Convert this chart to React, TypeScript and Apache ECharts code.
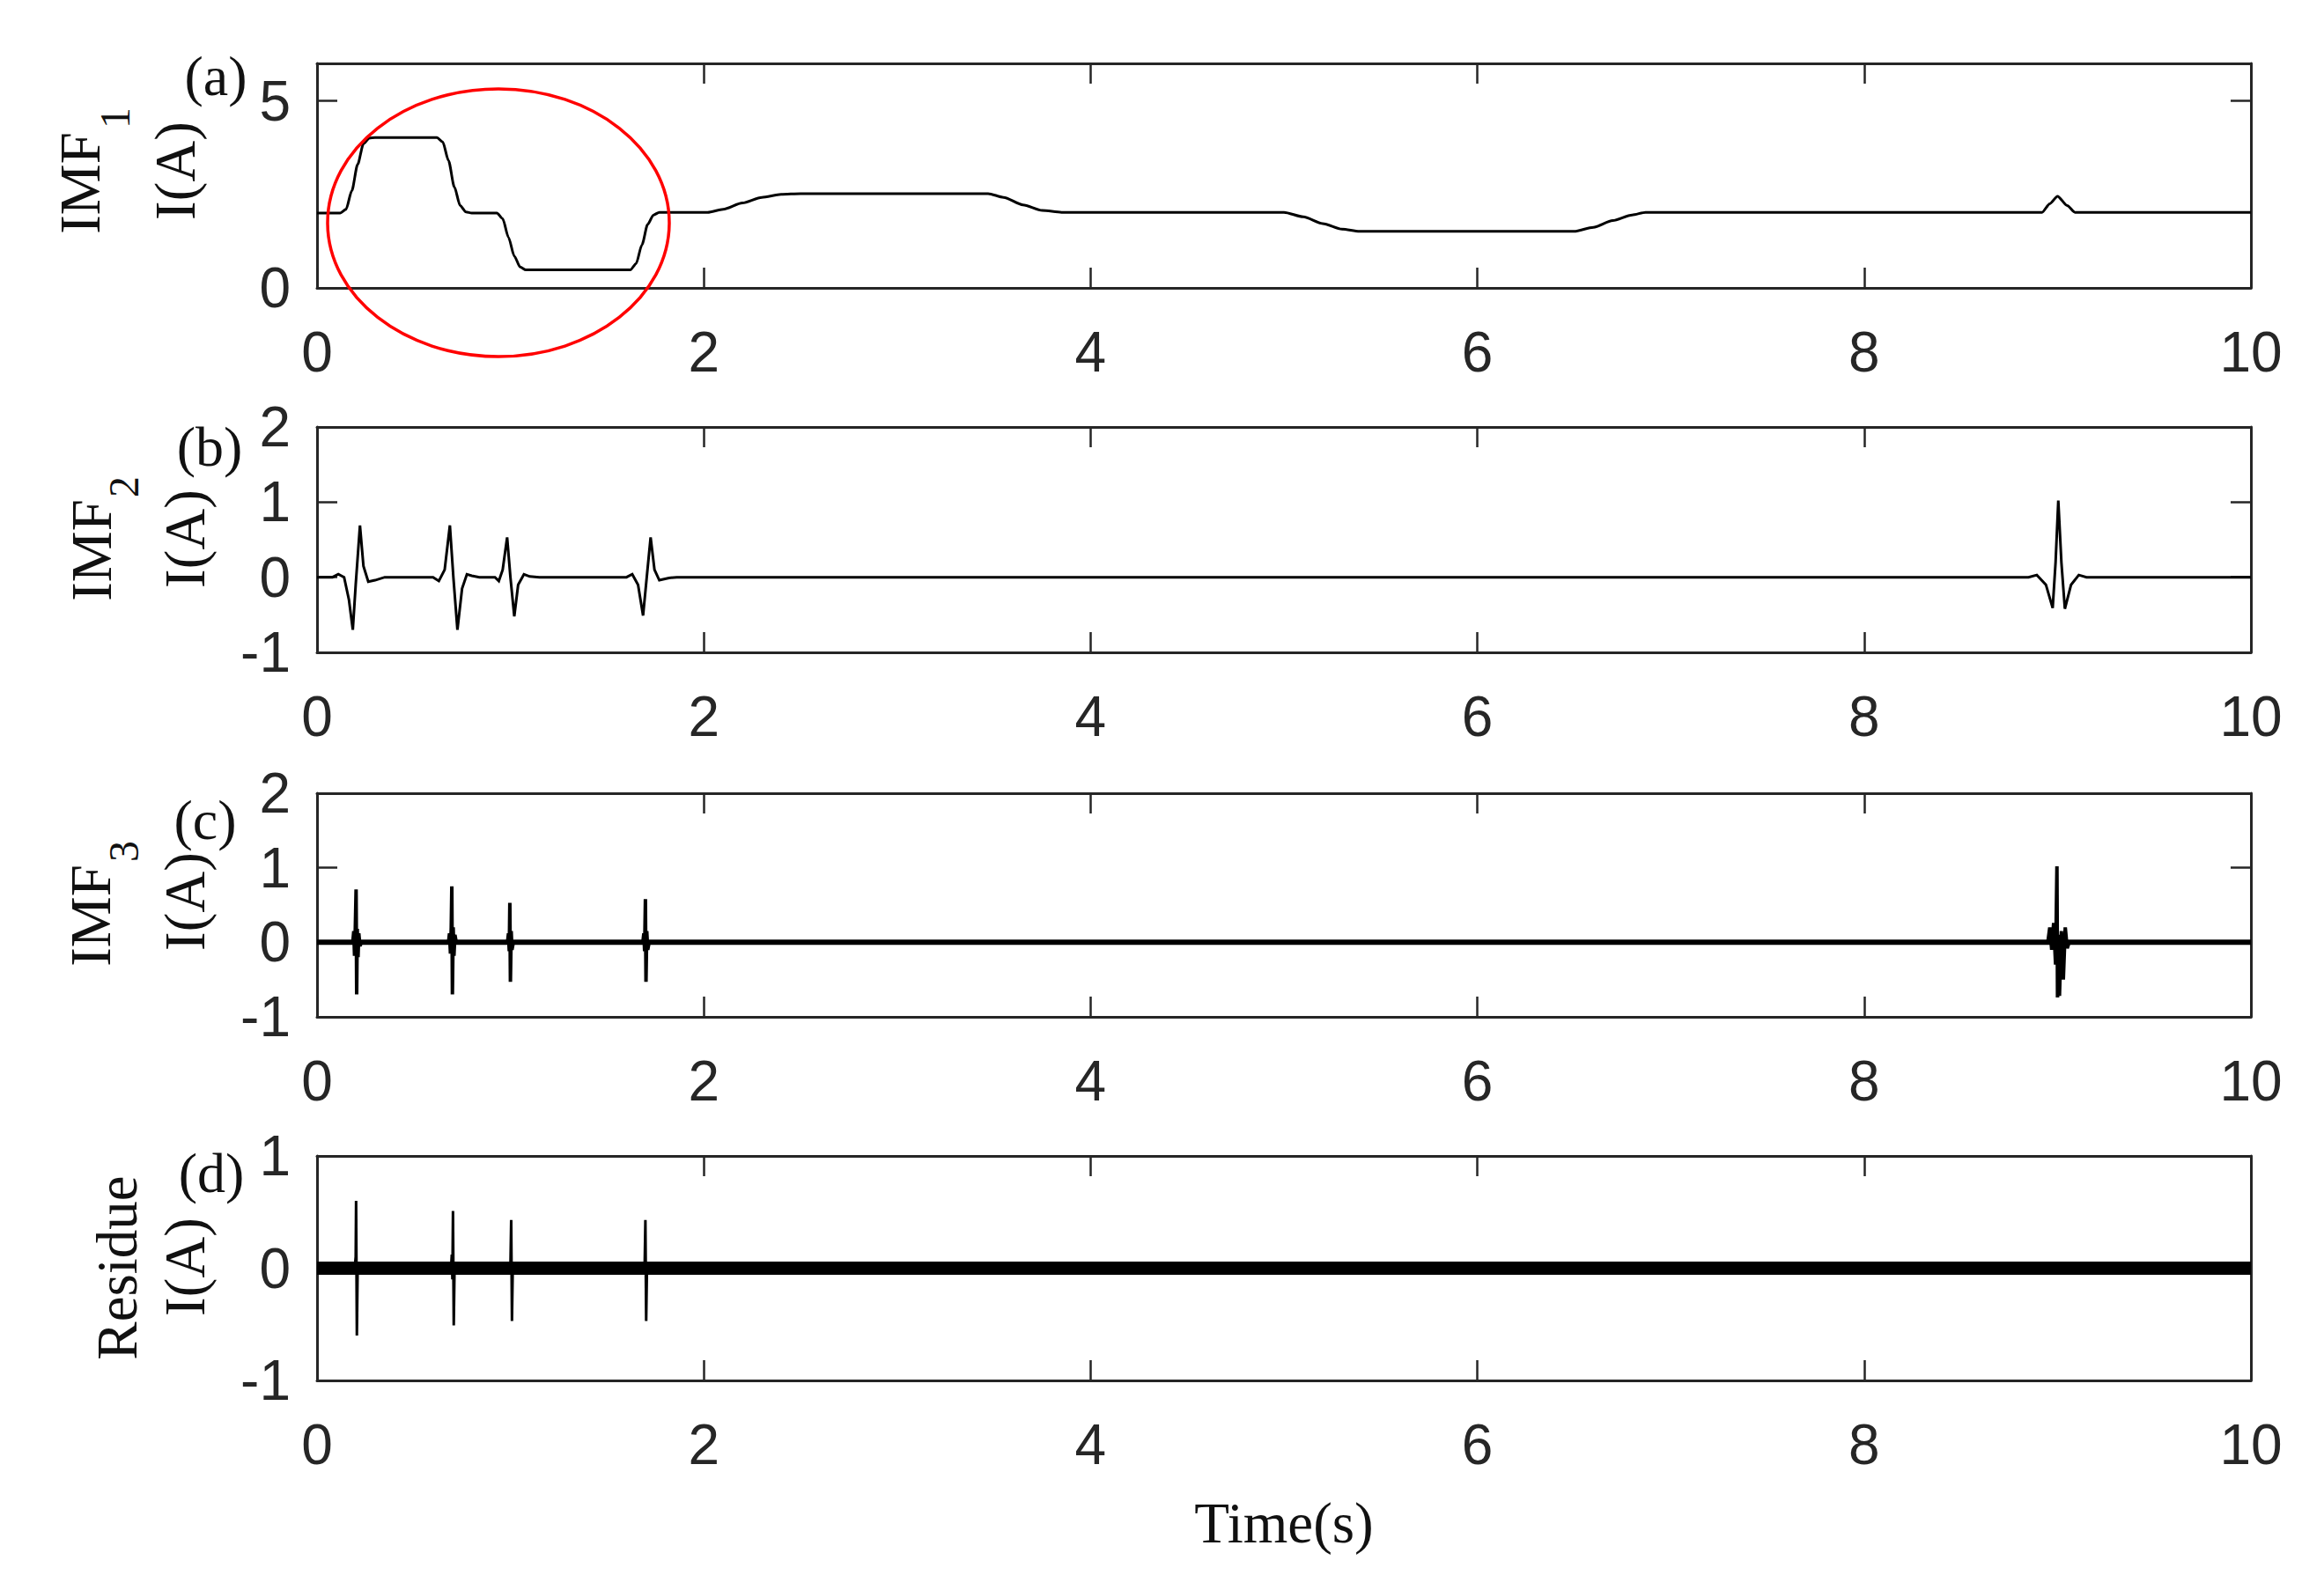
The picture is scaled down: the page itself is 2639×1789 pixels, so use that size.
import React, { useEffect, useRef } from "react";
import * as echarts from "echarts";

// ---------- data ----------
const timeMin = 0;
const timeMax = 10;
const timeStep = 2;

const panelLabels = ["(a)", "(b)", "(c)", "(d)"];
const yMainNames = ["IMF", "IMF", "IMF", "Residue"];
const ySubNames = ["1", "2", "3", ""];
const yUnitName = "I(A)";
const xTitle = "Time(s)";

const yMins = [0, -1, -1, -1];
const yMaxs = [6, 2, 2, 1];
const ySteps = [5, 1, 1, 1];

// (a) IMF1 [time, current]
const imf1: number[][] = [
  [0, 2.0], [0.12, 2.0], [0.15, 2.1], [0.18, 2.6], [0.21, 3.3], [0.24, 3.85], [0.27, 4.0], [0.3, 4.02],
  [0.62, 4.02], [0.65, 3.9], [0.68, 3.4], [0.71, 2.7], [0.74, 2.2], [0.77, 2.03], [0.8, 2.0],
  [0.93, 2.0], [0.96, 1.85], [0.99, 1.35], [1.02, 0.85], [1.05, 0.56], [1.08, 0.48],
  [1.62, 0.48], [1.65, 0.65], [1.68, 1.15], [1.71, 1.7], [1.74, 1.95], [1.77, 2.02],
  [2.02, 2.02], [2.1, 2.1], [2.2, 2.27], [2.3, 2.42], [2.4, 2.5], [2.5, 2.52],
  [3.47, 2.52], [3.55, 2.42], [3.65, 2.22], [3.75, 2.07], [3.85, 2.02],
  [5.0, 2.02], [5.1, 1.9], [5.2, 1.72], [5.3, 1.57], [5.39, 1.51],
  [6.5, 1.51], [6.6, 1.62], [6.7, 1.8], [6.8, 1.95], [6.87, 2.02],
  [8.92, 2.02], [8.96, 2.25], [9.0, 2.45], [9.05, 2.2], [9.09, 2.02], [10, 2.02],
];

// (b) IMF2
const imf2: number[][] = [
  [0, 0], [0.08, 0], [0.11, 0.04], [0.14, 0.0], [0.165, -0.3], [0.185, -0.7], [0.2, -0.1], [0.222, 0.69],
  [0.24, 0.15], [0.265, -0.06], [0.3, -0.04], [0.35, 0],
  [0.6, 0], [0.63, -0.05], [0.66, 0.1], [0.687, 0.69], [0.705, 0], [0.726, -0.7], [0.75, -0.15], [0.775, 0.04], [0.8, 0.02], [0.84, 0],
  [0.92, 0], [0.94, -0.05], [0.96, 0.1], [0.983, 0.53], [1.0, 0], [1.02, -0.52], [1.04, -0.1], [1.07, 0.04], [1.1, 0.01], [1.15, 0],
  [1.6, 0], [1.63, 0.04], [1.66, -0.1], [1.686, -0.51], [1.705, 0], [1.725, 0.53], [1.745, 0.1], [1.77, -0.04], [1.82, -0.01], [1.86, 0],
  [8.85, 0], [8.893, 0.03], [8.94, -0.1], [8.975, -0.41], [8.99, 0.2], [9.004, 1.02], [9.02, 0.2], [9.038, -0.42],
  [9.07, -0.1], [9.11, 0.03], [9.15, 0], [10, 0],
];

// (c) IMF3
const imf3Floor: number[][] = [[0, 0], [10, 0]];
const imf3: number[][] = [
  [0, 0], [0.185, 0], [0.19, 0.15], [0.194, -0.18], [0.198, 0.2], [0.202, 0.71], [0.205, -0.7], [0.208, 0.18],
  [0.212, -0.2], [0.216, 0.12], [0.222, -0.05], [0.23, 0],
  [0.68, 0], [0.685, 0.12], [0.69, -0.15], [0.694, 0.2], [0.697, 0.75], [0.7, -0.7], [0.704, 0.2], [0.708, -0.18], [0.713, 0.1], [0.72, 0],
  [0.985, 0], [0.99, 0.12], [0.994, -0.12], [0.997, 0.53], [1.0, -0.53], [1.004, 0.15], [1.008, -0.1], [1.015, 0],
  [1.685, 0], [1.69, 0.12], [1.694, -0.12], [1.698, 0.58], [1.701, -0.53], [1.705, 0.15], [1.71, -0.1], [1.717, 0],
  [8.95, 0], [8.96, 0.2], [8.97, -0.1], [8.98, 0.26], [8.99, -0.3], [8.997, 1.02], [9.0, -0.74], [9.005, 0.1],
  [9.01, -0.72], [9.02, 0.15], [9.03, -0.5], [9.04, 0.2], [9.05, -0.08], [9.06, 0], [10, 0],
];

// (d) Residue
const residueFloor: number[][] = [[0, 0], [10, 0]];
const residue: number[][] = [
  [0, 0], [0.195, 0], [0.2, 0.1], [0.202, 0.6], [0.206, -0.6], [0.21, 0],
  [0.693, 0], [0.697, 0.12], [0.7, -0.1], [0.703, 0.51], [0.707, -0.51], [0.711, 0],
  [1.0, 0], [1.004, 0.43], [1.008, -0.47], [1.012, 0],
  [1.694, 0], [1.698, 0.43], [1.702, -0.47], [1.706, 0],
  [10, 0],
];

const panelSeries = [
  [{ data: imf1, width: 3, smooth: 0.25 }],
  [{ data: imf2, width: 3, smooth: 0 }],
  [{ data: imf3Floor, width: 6, smooth: 0 }, { data: imf3, width: 4, smooth: 0 }],
  [{ data: residueFloor, width: 15, smooth: 0 }, { data: residue, width: 3, smooth: 0 }],
];

// ---------- layout / style ----------
const W = 2639;
const H = 1789;
const PLOT_LEFT = 360;
const PLOT_RIGHT = 2556;
const gridTops = [72, 485, 901, 1313];
const gridHeights = [255, 256, 254, 255];
const INK = "#262626";
const SANS = '"Liberation Sans", Arial, Helvetica, sans-serif';
const SERIF = '"Liberation Serif", "Times New Roman", Times, serif';

const labelPos = [
  [245, 86],
  [238, 507],
  [233, 931],
  [240, 1332],
];
const mainNamePos = [
  [91, 208],
  [104, 625],
  [103, 1040],
  [133, 1440],
];
const subNamePos = [
  [130, 134],
  [140, 553],
  [140, 967],
  [0, 0],
];
const unitPos = [
  [199, 194],
  [210, 612],
  [210, 1024],
  [210, 1439],
];

export default function App() {
  const ref = useRef<HTMLDivElement>(null);

  useEffect(() => {
    if (!ref.current) return;
    const chart = echarts.init(ref.current, undefined, { renderer: "svg" });

    const grids: any[] = [];
    const xAxes: any[] = [];
    const yAxes: any[] = [];
    const series: any[] = [];
    const graphics: any[] = [];

    for (let i = 0; i < 4; i++) {
      grids.push({
        left: PLOT_LEFT,
        width: PLOT_RIGHT - PLOT_LEFT,
        top: gridTops[i],
        height: gridHeights[i],
        outerBoundsMode: "none",
        containLabel: false,
      });
      const axisLine = { show: true, onZero: false, lineStyle: { color: INK, width: 3 } };
      const tick = { show: true, inside: true, length: 23, lineStyle: { color: INK, width: 2.5 } };
      xAxes.push({
        type: "value",
        gridIndex: i,
        position: "bottom",
        min: timeMin,
        max: timeMax,
        interval: timeStep,
        axisLine,
        axisTick: tick,
        splitLine: { show: false },
        axisLabel: { show: true, color: INK, fontSize: 64, fontFamily: SANS, margin: 41 },
      });
      xAxes.push({
        type: "value",
        gridIndex: i,
        position: "top",
        min: timeMin,
        max: timeMax,
        interval: timeStep,
        axisLine,
        axisTick: tick,
        splitLine: { show: false },
        axisLabel: { show: false },
      });
      const yMax = yMaxs[i];
      const yStep = ySteps[i];
      yAxes.push({
        type: "value",
        gridIndex: i,
        position: "left",
        min: yMins[i],
        max: yMax,
        interval: yStep,
        axisLine,
        axisTick: tick,
        splitLine: { show: false },
        axisLabel: {
          show: true,
          color: INK,
          fontSize: 64,
          fontFamily: SANS,
          margin: 30,
          formatter: (v: number) => ((v - yMins[i]) % yStep === 0 ? String(v) : ""),
        },
      });
      yAxes.push({
        type: "value",
        gridIndex: i,
        position: "right",
        min: yMins[i],
        max: yMax,
        interval: yStep,
        axisLine,
        axisTick: tick,
        splitLine: { show: false },
        axisLabel: { show: false },
      });

      panelSeries[i].forEach((s, k) => {
        series.push({
          type: "line",
          name: `${yMainNames[i]}${ySubNames[i]}-${k}`,
          xAxisIndex: 2 * i,
          yAxisIndex: 2 * i,
          data: s.data,
          showSymbol: false,
          symbol: "none",
          smooth: s.smooth,
          smoothMonotone: "x",
          silent: true,
          clip: true,
          lineStyle: { color: "#000000", width: s.width, cap: "butt", join: "miter" },
          z: 3 + k,
        });
      });

      graphics.push({
        type: "text",
        x: labelPos[i][0],
        y: labelPos[i][1],
        style: {
          text: panelLabels[i],
          fontSize: 64,
          fontFamily: SERIF,
          fill: "#111",
          align: "center",
          verticalAlign: "middle",
        },
      });
      graphics.push({
        type: "text",
        x: mainNamePos[i][0],
        y: mainNamePos[i][1],
        rotation: Math.PI / 2,
        style: {
          text: yMainNames[i],
          fontSize: 65,
          fontFamily: SERIF,
          fill: "#111",
          align: "center",
          verticalAlign: "middle",
        },
      });
      if (ySubNames[i]) {
        graphics.push({
          type: "text",
          x: subNamePos[i][0],
          y: subNamePos[i][1],
          rotation: Math.PI / 2,
          style: {
            text: ySubNames[i],
            fontSize: 48,
            fontFamily: SERIF,
            fill: "#111",
            align: "center",
            verticalAlign: "middle",
          },
        });
      }
      graphics.push({
        type: "text",
        x: unitPos[i][0],
        y: unitPos[i][1],
        rotation: Math.PI / 2,
        style: {
          text: yUnitName,
          fontSize: 65,
          fontFamily: SERIF,
          fill: "#111",
          align: "center",
          verticalAlign: "middle",
        },
      });
    }

    graphics.push({
      type: "text",
      x: 1458,
      y: 1730,
      style: {
        text: xTitle,
        fontSize: 65,
        fontFamily: SERIF,
        fill: "#111",
        align: "center",
        verticalAlign: "middle",
      },
    });
    graphics.push({
      type: "ellipse",
      shape: { cx: 566, cy: 253, rx: 194, ry: 152 },
      style: { fill: "none", stroke: "#ff0000", lineWidth: 3.5 },
      z: 100,
    });

    chart.setOption({
      animation: false,
      backgroundColor: "#ffffff",
      grid: grids,
      xAxis: xAxes,
      yAxis: yAxes,
      series,
      graphic: graphics,
    });

    return () => {
      chart.dispose();
    };
  }, []);

  return (
    <div
      ref={ref}
      style={{ position: "fixed", left: 0, top: 0, width: W, height: H, background: "#fff" }}
    />
  );
}
